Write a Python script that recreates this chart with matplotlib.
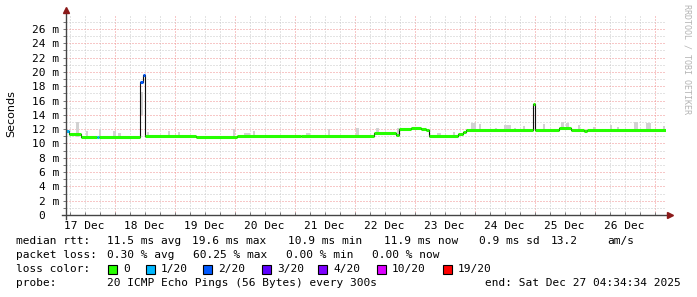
import pandas as pd
import matplotlib
matplotlib.use("Agg")
import matplotlib.pyplot as plt
import matplotlib.dates as mdates
import matplotlib.ticker as mticker

# time window of the graph
t0 = pd.Timestamp("2025-12-17 00:00")
t_start = pd.Timestamp("2025-12-17 04:34:34")
t_end = pd.Timestamp("2025-12-27 04:34:34")

# median rtt: step changes (hours after 17 Dec 00:00), value in ms, loss level
med_hours = [4.6, 5.6, 10.4, 16.8, 17.6, 34.0, 35.2, 36.2, 56.4, 72.8, 98.4,
             127.6, 136.4, 137.6, 142.4, 146.4, 148.4, 149.6, 161.2, 163.2,
             164.4, 191.2, 192.2, 201.6, 206.4, 211.6, 212.8]
med_ms = [11.8, 11.3, 10.95, 10.95, 10.95, 18.6, 19.6, 11.1, 10.95, 11.0, 11.05,
          11.4, 11.25, 12.0, 12.15, 12.0, 11.85, 11.05, 11.3, 11.6,
          11.95, 15.5, 11.95, 12.1, 11.95, 11.8, 11.95]
med_loss = [1, 0, 0, 1, 0, 2, 2, 0, 0, 0, 0,
            0, 0, 0, 0, 0, 0, 0, 0, 0,
            0, 0, 0, 0, 0, 0, 0]

# smoke (ping spread) patches: start/end hours, low/high ms
smoke_h0 = [8.4, 12.4, 17.6, 23.2, 25.2, 34.0, 36.8, 45.2, 49.2, 71.2, 75.6, 79.2,
            100.4, 109.2, 120.4, 128.4, 136.8, 152.8, 159.2, 166.4, 169.6, 176.0,
            179.6, 183.6, 187.2, 195.2, 202.4, 204.4, 209.2, 215.2, 222.0, 224.8,
            231.6, 236.4, 243.2]
smoke_h1 = [9.6, 13.2, 18.4, 24.4, 26.4, 35.2, 37.6, 46.0, 50.0, 72.0, 78.0, 80.0,
            102.0, 110.0, 121.6, 129.6, 137.6, 154.4, 160.0, 168.4, 170.4, 176.8,
            182.4, 184.4, 188.0, 196.0, 203.6, 205.6, 210.0, 216.0, 222.8, 225.6,
            233.2, 238.4, 244.0]
smoke_lo = [10.9, 10.9, 10.9, 10.9, 10.9, 14.0, 11.0, 11.0, 11.0, 10.9, 10.9, 10.9,
            10.9, 11.0, 11.0, 11.2, 11.2, 10.8, 10.9, 11.8, 11.8, 11.8,
            11.8, 11.8, 11.8, 11.8, 11.9, 11.9, 11.8, 11.8, 11.8, 11.8,
            11.8, 11.8, 11.8]
smoke_hi = [13.0, 11.7, 12.0, 11.7, 11.5, 17.2, 11.6, 11.8, 11.6, 12.0, 11.5, 11.8,
            11.5, 12.0, 12.2, 12.2, 12.2, 11.5, 11.6, 12.9, 12.7, 12.2,
            12.6, 12.2, 12.4, 12.7, 13.0, 12.8, 12.6, 12.3, 12.6, 12.3,
            13.0, 12.8, 12.4]

loss_labels = ["0", "1/20", "2/20", "3/20", "4/20", "10/20", "19/20"]
loss_colors = ["#26ff00", "#00b8ff", "#0059ff", "#5e00ff", "#7e00ff", "#dd00ff", "#ff0000"]

stats_rtt = ["11.5 ms avg", "19.6 ms max", "10.9 ms min", "11.9 ms now", "0.9 ms sd", "13.2", "am/s"]
stats_loss = ["0.30 % avg", "60.25 % max", "0.00 % min", "0.00 % now"]
probe_text = "20 ICMP Echo Pings (56 Bytes) every 300s"
end_text = "end: Sat Dec 27 04:34:34 2025"

W, H = 697, 297
mono = "DejaVu Sans Mono"
fs = 8
fig = plt.figure(figsize=(W / 100, H / 100), dpi=100)
fig.patch.set_facecolor("white")
ax = fig.add_axes([66 / W, (H - 215) / H, 600 / W, 200 / H])

def px_x(x):
    return x / W

def px_y(y):
    return 1 - y / H

# smoke
for h0, h1, lo, hi in zip(smoke_h0, smoke_h1, smoke_lo, smoke_hi):
    a = t0 + pd.Timedelta(hours=h0)
    b = t0 + pd.Timedelta(hours=h1)
    ax.fill_between([a, b], [lo, lo], [hi, hi], color="#d2d2d2", lw=0, zorder=2)

# median line
times = [t0 + pd.Timedelta(hours=h) for h in med_hours] + [t_end]
ax.step(times, med_ms + [med_ms[-1]], where="post", color="#111111", lw=0.8, zorder=3)
for i in range(len(med_ms)):
    ax.hlines(med_ms[i], times[i], times[i + 1], color=loss_colors[med_loss[i]],
              lw=2.2, zorder=4)

ax.set_xlim(t_start, t_end)
ax.set_ylim(0, 27.96)

# grid
ax.xaxis.set_major_locator(mdates.DayLocator())
ax.xaxis.set_minor_locator(mdates.HourLocator(byhour=[0, 6, 12, 18]))
ax.xaxis.set_major_formatter(mticker.NullFormatter())

def day_label(v, pos):
    d = mdates.num2date(v)
    return d.strftime("%d %b") if d.hour == 12 else ""

ax.xaxis.set_minor_formatter(mticker.FuncFormatter(day_label))
ax.yaxis.set_major_locator(mticker.MultipleLocator(2))
ax.yaxis.set_minor_locator(mticker.MultipleLocator(1))
ax.yaxis.set_major_formatter(mticker.FuncFormatter(
    lambda v, p: "0  " if v == 0 else f"{v:.0f} m"))

ax.set_axisbelow(True)
ax.grid(which="minor", color="#c8c8c8", lw=0.72, linestyle=(0, (1, 2)))
ax.grid(which="major", color="#f09090", lw=0.72, linestyle=(0, (1, 2)))

for s in ax.spines.values():
    s.set_visible(False)
ax.tick_params(axis="both", which="both", colors="#777777", length=2, width=0.7,
               labelcolor="black", labelsize=8)
ax.tick_params(axis="y", which="both", direction="out", pad=3)
ax.tick_params(axis="x", which="both", direction="in", pad=4)
for lab in ax.get_xticklabels(which="both") + ax.get_yticklabels():
    lab.set_fontfamily(mono)

# axis lines and arrows
ax.plot([-4 / 600, 1.0], [0, 0], transform=ax.transAxes, color="#444444", lw=1,
        clip_on=False, zorder=5)
ax.plot([0, 0], [-4 / 200, 1.015], transform=ax.transAxes, color="#444444", lw=1,
        clip_on=False, zorder=5)
ax.plot([1.0065], [0], marker=">", ms=4, color="#8b1a1a", transform=ax.transAxes,
        clip_on=False, zorder=6)
ax.plot([0], [1.025], marker="^", ms=4, color="#8b1a1a", transform=ax.transAxes,
        clip_on=False, zorder=6)

# unit label and watermark
fig.text(px_x(11), px_y(114), "Seconds", rotation=90, ha="center", va="center",
         fontsize=8, family="DejaVu Sans")
fig.text(px_x(687), px_y(59), "RRDTOOL / TOBI OETIKER", rotation=-90, ha="center",
         va="center", fontsize=6, family=mono, color="#b4b4b4")

# legend block
fig.text(px_x(16), px_y(241), "median rtt:", fontsize=fs, family=mono, va="center")
for x, s in zip([107, 192, 288, 384, 479, 551, 607], stats_rtt):
    fig.text(px_x(x), px_y(241), s, fontsize=fs, family=mono, va="center")
fig.text(px_x(16), px_y(255), "packet loss:", fontsize=fs, family=mono, va="center")
for x, s in zip([107, 193, 286, 372], stats_loss):
    fig.text(px_x(x), px_y(255), s, fontsize=fs, family=mono, va="center")
fig.text(px_x(16), px_y(269), "loss color:", fontsize=fs, family=mono, va="center")
for x, lab, col in zip([108, 146, 203, 262, 318, 377, 443], loss_labels, loss_colors):
    fig.patches.append(plt.Rectangle((px_x(x), px_y(273.5)), 8.5 / W, 8.5 / H,
                                     transform=fig.transFigure, facecolor=col,
                                     edgecolor="black", lw=0.8))
    fig.text(px_x(x + 15), px_y(269), lab, fontsize=fs, family=mono, va="center")
fig.text(px_x(16), px_y(283), "probe:", fontsize=fs, family=mono, va="center")
fig.text(px_x(107), px_y(283), probe_text, fontsize=fs, family=mono, va="center")
fig.text(px_x(681), px_y(283), end_text, fontsize=fs, family=mono, va="center", ha="right")

fig.savefig("out.png", dpi=100, facecolor="white")
